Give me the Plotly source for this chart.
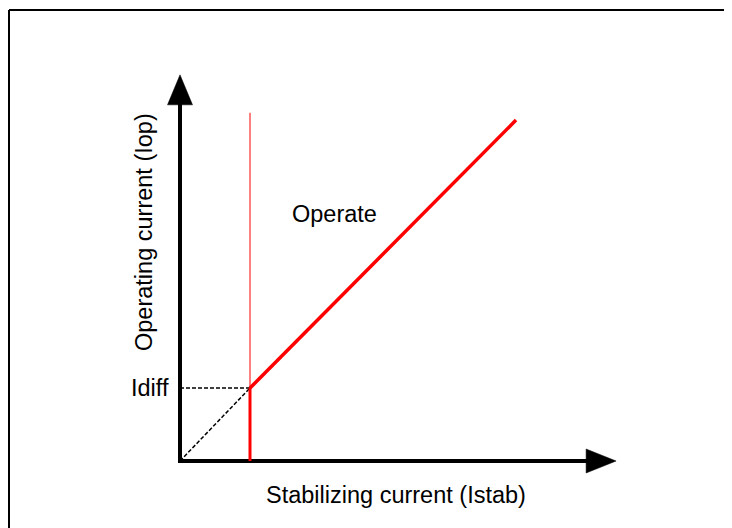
import plotly.graph_objects as go

# ---- data (relative units) ----
istab_min = 1.0            # stabilizing-current threshold (vertical red line)
idiff = 1.0                # Idiff level
slope_x = [1.0, 4.8]       # sloped characteristic, x
slope_y = [1.0, 4.67]      # sloped characteristic, y
thin_top = 4.77            # top of thin red vertical line
x_axis_end = 6.23
y_axis_end = 5.29
labels = {"idiff": "Idiff", "operate": "Operate",
          "xtitle": "Stabilizing current (Istab)",
          "ytitle": "Operating current (Iop)"}

W, H = 732, 528
OFF = 8.0                  # page body margin
ux, uy = 70.0, 73.0        # pixels per unit
ox, oy = 180.0 - OFF, 461.0 - OFF
xr = [-ox / ux, (W - ox) / ux]
yr = [-(H - oy) / uy, oy / uy]

def dx(px):
    return (px - OFF - ox) / ux

def dy(py):
    return (oy - (py - OFF)) / uy

FONT = "Liberation Sans, Arial, sans-serif"
fig = go.Figure()

def line(xs, ys, color, width, dash=None):
    fig.add_trace(go.Scatter(x=xs, y=ys, mode="lines",
                             line=dict(color=color, width=width, dash=dash),
                             hoverinfo="skip", showlegend=False))

# axes lines
yhead_h = 30 / uy
yhead_w = 12.5 / ux
xhead_h = 30 / ux
xhead_w = 12 / uy
line([0, 0], [-2 / uy, y_axis_end - yhead_h + 0.02], "black", 4)
line([-2 / ux, x_axis_end - xhead_h + 0.02], [0, 0], "black", 4)
# arrowheads
fig.add_trace(go.Scatter(x=[-yhead_w, yhead_w, 0, -yhead_w],
                         y=[y_axis_end - yhead_h] * 2 + [y_axis_end, y_axis_end - yhead_h],
                         mode="lines", fill="toself", fillcolor="black",
                         line=dict(color="black", width=0.5),
                         hoverinfo="skip", showlegend=False))
fig.add_trace(go.Scatter(x=[x_axis_end - xhead_h] * 2 + [x_axis_end, x_axis_end - xhead_h],
                         y=[-xhead_w, xhead_w, 0, -xhead_w],
                         mode="lines", fill="toself", fillcolor="black",
                         line=dict(color="black", width=0.5),
                         hoverinfo="skip", showlegend=False))

# dashed helpers
line([0, istab_min], [idiff, idiff], "black", 1.5, "4px,2px")
line([0, istab_min], [0, idiff], "black", 1.5, "4px,2px")

# red characteristic
line([istab_min, istab_min], [idiff, thin_top], "red", 1)
line([istab_min, istab_min], [0, idiff], "red", 3)
line(slope_x, slope_y, "red", 3.5)

# text
fs = 23.5
fig.add_annotation(x=-9 / ux, y=idiff, text=labels["idiff"], showarrow=False,
                   xanchor="right", yanchor="middle", font=dict(size=fs, color="black", family=FONT))
fig.add_annotation(x=dx(334), y=dy(214), text=labels["operate"], showarrow=False,
                   xanchor="center", yanchor="middle", font=dict(size=fs, color="black", family=FONT))
fig.add_annotation(x=dx(396), y=dy(495), text=labels["xtitle"], showarrow=False,
                   xanchor="center", yanchor="middle", font=dict(size=fs, color="black", family=FONT))
fig.add_annotation(x=dx(144), y=dy(232), text=labels["ytitle"], showarrow=False,
                   textangle=-90, xanchor="center", yanchor="middle",
                   font=dict(size=fs, color="black", family=FONT))

# frame (left and top edges)
fig.add_shape(type="line", xref="paper", yref="paper", x0=1 / W, x1=1.05,
              y0=1 - 2 / H, y1=1 - 2 / H, line=dict(color="black", width=2))
fig.add_shape(type="line", xref="paper", yref="paper", x0=1 / W, x1=1 / W,
              y0=1 - 2 / H, y1=-0.05, line=dict(color="black", width=2))

fig.update_layout(width=W, height=H, margin=dict(l=0, r=0, t=0, b=0),
                  paper_bgcolor="white", plot_bgcolor="white",
                  xaxis=dict(range=xr, visible=False, fixedrange=True),
                  yaxis=dict(range=yr, visible=False, fixedrange=True),
                  showlegend=False)
fig.write_html("out.html")
